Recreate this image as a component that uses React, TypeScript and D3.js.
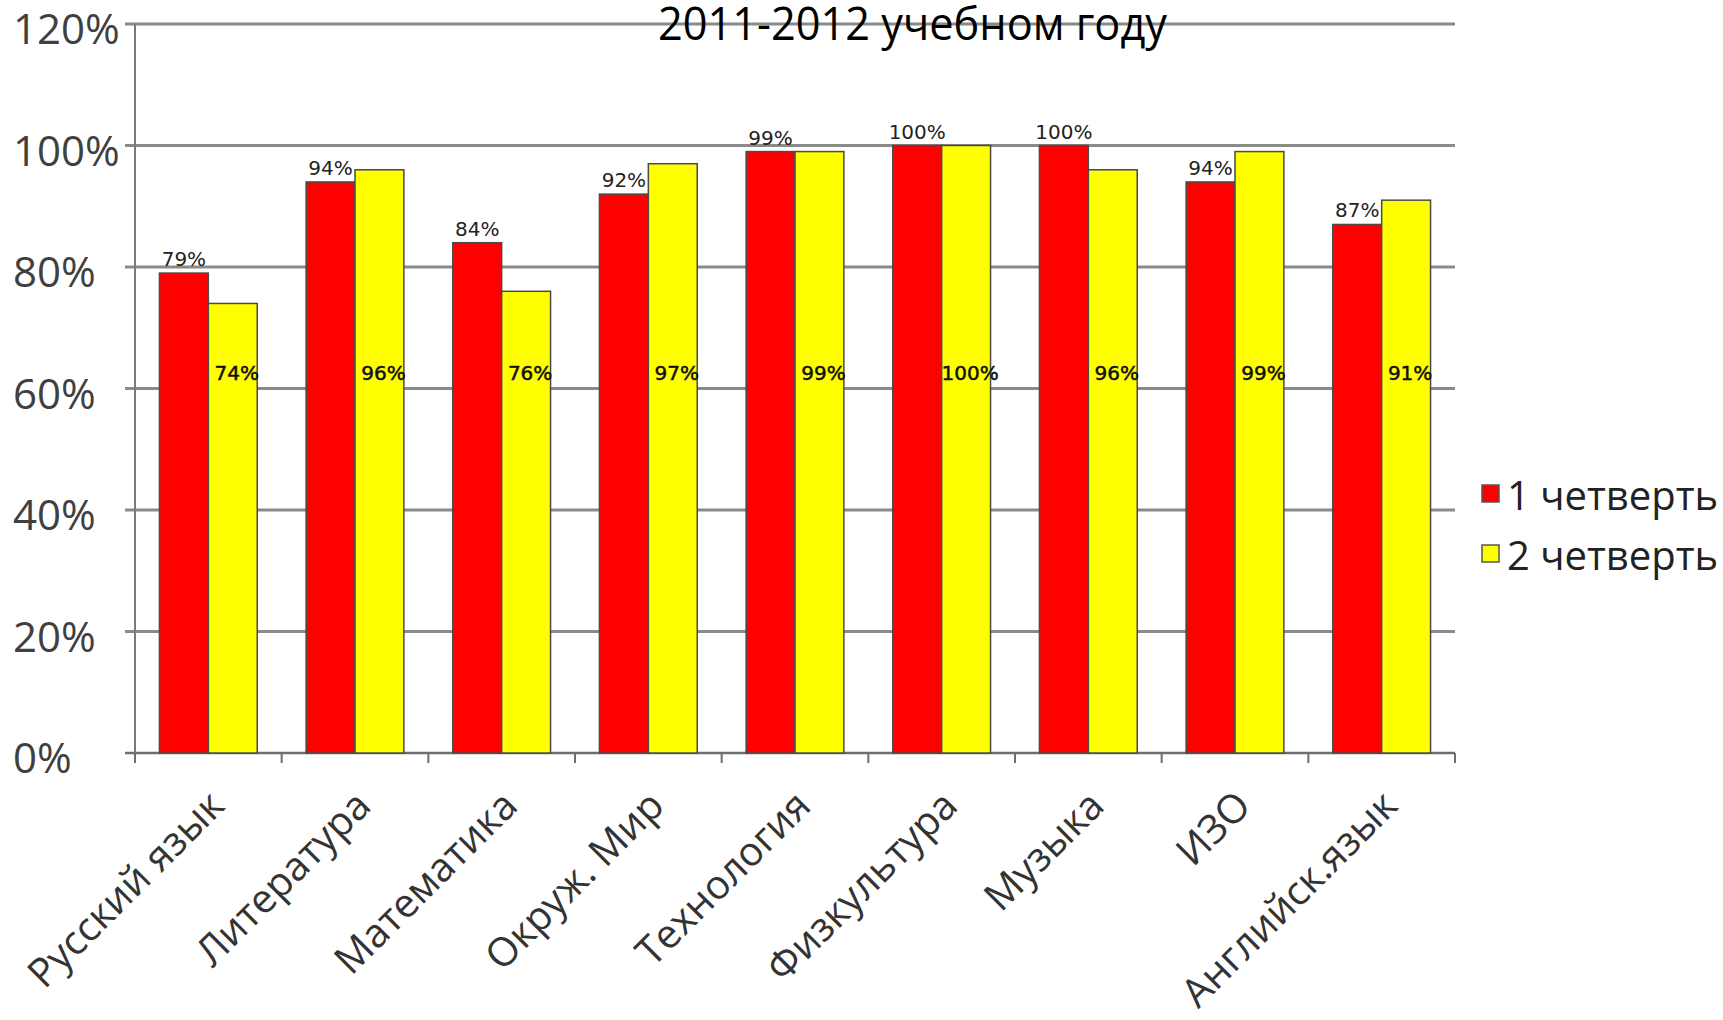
import React from "react";
import * as d3 from "d3";

const categories = [
  "Русский язык",
  "Литература",
  "Математика",
  "Окруж. Мир",
  "Технология",
  "Физкультура",
  "Музыка",
  "ИЗО",
  "Английск.язык",
];
const quarter1 = [79, 94, 84, 92, 99, 100, 100, 94, 87];
const quarter2 = [74, 96, 76, 97, 99, 100, 96, 99, 91];
const seriesNames = ["1 четверть", "2 четверть"];
const seriesColors = ["#ff0000", "#ffff00"];
const yTicks = [0, 20, 40, 60, 80, 100, 120];
const title = "2011-2012 учебном году";

const W = 1723;
const H = 1020;
const X0 = 135;
const X1 = 1455;
const Y0 = 753;
const Y1 = 24;

export default function App() {
  const x = d3.scaleBand<string>().domain(categories).range([X0, X1]).paddingInner(0).paddingOuter(0);
  const y = d3.scaleLinear().domain([0, 120]).range([Y0, Y1]);
  const bw = x.bandwidth();
  const inner = d3
    .scaleBand<number>()
    .domain([0, 1])
    .range([bw / 6, (bw * 5) / 6])
    .padding(0);
  const series = [quarter1, quarter2];
  const gridColor = "#8a8a8a";
  const labelFont = "'Open Sans', sans-serif";

  return (
    <div style={{ position: "absolute", left: 0, top: 0, width: W, height: H, background: "#fff" }}>
      <svg width={W} height={H} viewBox={`0 0 ${W} ${H}`} style={{ display: "block" }}>
        <rect x={0} y={0} width={W} height={H} fill="#fff" />
        {/* gridlines */}
        {yTicks.map((t) => (
          <line
            key={"g" + t}
            x1={X0 - 10}
            x2={X1}
            y1={y(t)}
            y2={y(t)}
            stroke={t === 0 ? "#6e6e6e" : gridColor}
            strokeWidth={t === 0 ? 2.5 : 2.8}
          />
        ))}
        {/* y axis line */}
        <line x1={X0} x2={X0} y1={Y1} y2={Y0 + 10} stroke="#7a7a7a" strokeWidth={2} />
        {/* x ticks */}
        {d3.range(categories.length + 1).map((i) => {
          const xx = X0 + i * bw;
          return <line key={"t" + i} x1={xx} x2={xx} y1={Y0} y2={Y0 + 10} stroke="#6e6e6e" strokeWidth={2} />;
        })}
        {/* y labels */}
        {yTicks.map((t) => (
          <text
            key={"yl" + t}
            x={13}
            y={y(t) + 20}
            fontFamily={labelFont}
            fontSize={42}
            fill="#404040"
          >
            {t + "%"}
          </text>
        ))}
        {/* bars */}
        {categories.map((c, ci) =>
          series.map((s, si) => (
            <rect
              key={c + si}
              x={(x(c) as number) + (inner(si) as number)}
              y={y(s[ci])}
              width={inner.bandwidth()}
              height={Y0 - y(s[ci])}
              fill={seriesColors[si]}
              stroke="#4a4a4a"
              strokeWidth={1.5}
            />
          ))
        )}
        {/* data labels series 1 */}
        {categories.map((c, ci) => (
          <text
            key={"l1" + c}
            x={(x(c) as number) + (inner(0) as number) + inner.bandwidth() / 2}
            y={y(quarter1[ci]) - 7}
            textAnchor="middle"
            fontFamily="'DejaVu Sans', sans-serif"
            fontSize={20}
            fill="#222"
          >
            {quarter1[ci] + "%"}
          </text>
        ))}
        {/* data labels series 2 */}
        {categories.map((c, ci) => (
          <text
            key={"l2" + c}
            x={(x(c) as number) + (inner(1) as number) + inner.bandwidth() / 2 + 4}
            y={380}
            textAnchor="middle"
            fontFamily="'DejaVu Sans', sans-serif"
            fontSize={20}
            fill="#111"
            stroke="#111"
            strokeWidth={0.5}
          >
            {quarter2[ci] + "%"}
          </text>
        ))}
        {/* category labels */}
        {categories.map((c) => {
          const cx = (x(c) as number) + bw / 2 + 18;
          const cy = Y0 + 55;
          return (
            <text
              key={"c" + c}
              transform={`translate(${cx},${cy}) rotate(-45)`}
              textAnchor="end"
              fontFamily={labelFont}
              fontSize={40}
              fill="#333"
            >
              {c}
            </text>
          );
        })}
        {/* title */}
        <text
          x={658}
          y={40}
          fontFamily={labelFont}
          fontSize={46}
          fill="#000"
          textLength={509}
          lengthAdjust="spacingAndGlyphs"
        >
          {title}
        </text>
        {/* legend */}
        {seriesNames.map((n, i) => (
          <g key={n} transform={`translate(1482,${485 + i * 60})`}>
            <rect x={0} y={0} width={17} height={17} fill={seriesColors[i]} stroke="#555" strokeWidth={1.5} />
            <text x={25} y={25} fontFamily={labelFont} fontSize={40} fill="#222">
              {n}
            </text>
          </g>
        ))}
      </svg>
    </div>
  );
}
